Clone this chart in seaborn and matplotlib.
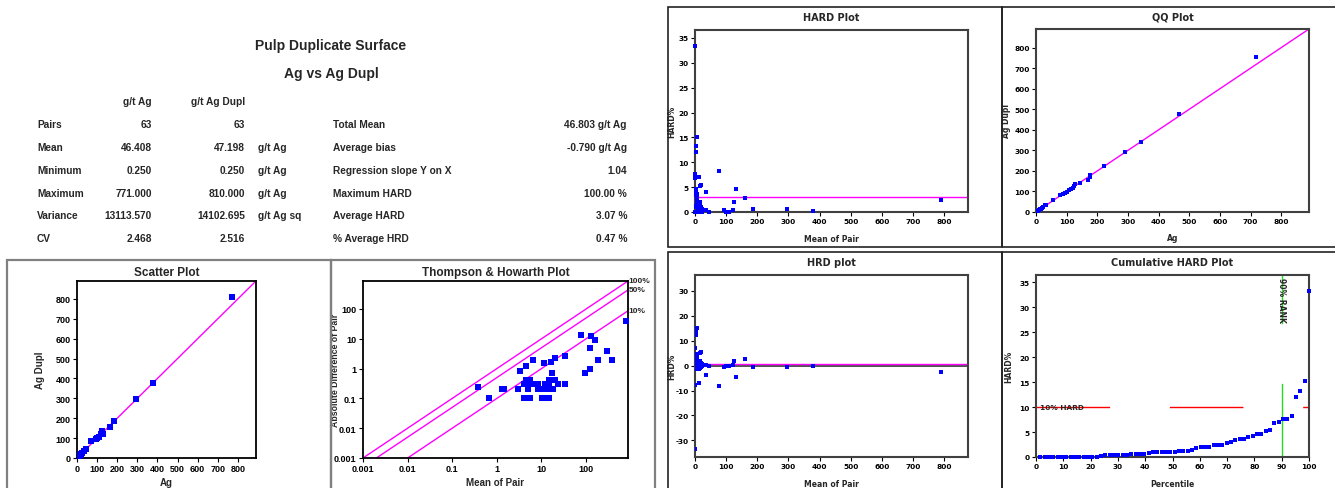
import numpy as np
import pandas as pd
import matplotlib
matplotlib.use("Agg")
import matplotlib.pyplot as plt
import seaborn as sns
from matplotlib.patches import Rectangle

# ---------------- data ----------------
ag = [771, 377, 294, 184, 164, 126, 127, 121.5, 93.3, 72, 32.7, 34.2, 24.2, 21.5,
      20.2, 17.9, 17.6, 17.3, 14.7, 14.9, 14.4, 11.7, 10.6, 10.0, 8.5, 8.6, 7.6, 5.4,
      4.9, 5.1, 4.1, 4.2, 3.7, 3.1, 1.55, 1.2, 0.6, 0.25, 13.2, 11.1, 9.4, 4.6, 5.1,
      6.6, 6.2, 5.2, 5.7, 4.6, 11.0,
      0.25, 0.25, 0.25, 0.5, 0.5, 1.0, 2.0, 3.5, 6.0, 9.0, 22.0, 45.0, 100.0, 108.0]
ag_dupl = [810, 379, 298, 186, 155, 138, 122, 120.5, 94.0, 85, 35.4, 33.9, 23.9, 19.3,
           19.8, 18.1, 16.9, 15.6, 14.8, 14.5, 14.7, 12.0, 12.2, 10.1, 8.3, 8.3, 5.6, 5.5,
           4.5, 3.9, 4.2, 3.9, 2.9, 2.9, 1.35, 1.4, 0.7, 0.5, 13.4, 10.9, 9.6, 4.5, 4.9,
           6.3, 5.9, 4.9, 5.3, 4.2, 11.1,
           0.25, 0.25, 0.25, 0.5, 0.5, 1.0, 2.0, 3.5, 6.0, 9.0, 22.0, 45.0, 100.0, 108.0]

qq_ag = [0.3, 0.5, 1, 1.5, 2.5, 3.5, 4.5, 5.5, 7, 9, 11, 13, 15, 17, 20, 24, 30, 34,
         54, 77, 88, 95, 101, 108, 115, 122, 125, 126, 145, 168, 175, 177, 222, 291,
         341, 467, 718]
qq_dupl = [0.3, 0.5, 1, 1.5, 2.5, 3.5, 4.5, 5.5, 7, 9, 11, 13, 15, 17, 20, 25, 32, 36,
           58, 81, 88, 92, 98, 106, 112, 118, 128, 135, 143, 157, 170, 178, 224, 293,
           340, 477, 754]

avg_hard = 3.07
avg_hrd = 0.47
th_levels = [1.0, 0.5, 0.1]
th_labels = ["100%", "50%", "10%"]

col_heads = ["g/t Ag", "g/t Ag Dupl"]
row_labels = ["Pairs", "Mean", "Minimum", "Maximum", "Variance", "CV"]
col_ag = ["63", "46.408", "0.250", "771.000", "13113.570", "2.468"]
col_dupl = ["63", "47.198", "0.250", "810.000", "14102.695", "2.516"]
col_units = ["", "g/t Ag", "g/t Ag", "g/t Ag", "g/t Ag sq", ""]
stat_labels = ["Total Mean", "Average bias", "Regression slope Y on X",
               "Maximum HARD", "Average HARD", "% Average HRD"]
stat_values = ["46.803 g/t Ag", "-0.790 g/t Ag", "1.04", "100.00 %", "3.07 %", "0.47 %"]

# ---------------- derived ----------------
a = np.array(ag, float)
d = np.array(ag_dupl, float)
df = pd.DataFrame({"ag": a, "dupl": d})
df["mean"] = (a + d) / 2
df["absdiff"] = np.abs(a - d)
df["hard"] = df["absdiff"] / (a + d) * 100
df["hrd"] = (a - d) / (a + d) * 100
cum = pd.DataFrame({"hard": np.sort(df["hard"].values)})
cum["pct"] = np.arange(1, len(cum) + 1) / len(cum) * 100
th = df[df["absdiff"] > 0]
qq = pd.DataFrame({"ag": qq_ag, "dupl": qq_dupl})

# ---------------- figure ----------------
sns.set_theme(style="white")
plt.rcParams['font.family'] = ['Liberation Sans', 'DejaVu Sans']
plt.rcParams['axes.linewidth'] = 1.0
plt.rcParams['axes.unicode_minus'] = False

W, H = 1335, 489
fig = plt.figure(figsize=(W / 100, H / 100), dpi=100)
fig.patch.set_facecolor("white")

def px_axes(x0, y0, x1, y1):
    return fig.add_axes([x0 / W, 1 - y1 / H, (x1 - x0) / W, (y1 - y0) / H])

def px_rect(x0, y0, x1, y1, color, lw):
    fig.patches.append(Rectangle((x0 / W, 1 - y1 / H), (x1 - x0) / W, (y1 - y0) / H,
                                 transform=fig.transFigure, fill=False,
                                 edgecolor=color, linewidth=lw, zorder=0))

def fx(x):
    return x / W

def fy(y):
    return 1 - y / H

BLUE = "#0000FF"
MAG = "#FF00FF"

# ---------------- header text ----------------
fig.text(fx(331), fy(46), "Pulp Duplicate Surface", ha="center", va="center",
         fontsize=10, fontweight="bold")
fig.text(fx(331), fy(74), "Ag vs Ag Dupl", ha="center", va="center",
         fontsize=10, fontweight="bold")
tfs = 7.3
fig.text(fx(152), fy(102), col_heads[0], ha="right", va="center", fontsize=tfs, fontweight="bold")
fig.text(fx(245), fy(102), col_heads[1], ha="right", va="center", fontsize=tfs, fontweight="bold")
row_y = [125, 148, 171, 194, 216, 239]
for i, yy in enumerate(row_y):
    fig.text(fx(37), fy(yy), row_labels[i], ha="left", va="center", fontsize=tfs, fontweight="bold")
    fig.text(fx(152), fy(yy), col_ag[i], ha="right", va="center", fontsize=tfs, fontweight="bold")
    fig.text(fx(245), fy(yy), col_dupl[i], ha="right", va="center", fontsize=tfs, fontweight="bold")
    fig.text(fx(258), fy(yy), col_units[i], ha="left", va="center", fontsize=tfs, fontweight="bold")
    fig.text(fx(333), fy(yy), stat_labels[i], ha="left", va="center", fontsize=tfs, fontweight="bold")
    fig.text(fx(627), fy(yy), stat_values[i], ha="right", va="center", fontsize=tfs, fontweight="bold")

# ---------------- panel frames ----------------
px_rect(7, 261, 331, 492, "#808080", 1.6)
px_rect(331, 261, 655, 492, "#808080", 1.6)
px_rect(668, 8, 1002, 248, "#222222", 1.2)
px_rect(1002, 8, 1340, 248, "#222222", 1.2)
px_rect(668, 253, 1002, 492, "#222222", 1.2)
px_rect(1002, 253, 1340, 492, "#222222", 1.2)

def style_left(ax, title):
    ax.set_title(title, fontsize=8.5, fontweight="bold", pad=4)
    for s in ax.spines.values():
        s.set_color("black")
        s.set_linewidth(1.3)
    ax.tick_params(axis="both", which="major", direction="out", length=3, width=0.8,
                   labelsize=6.5, pad=1.5, colors="black", bottom=True, left=True)
    for lab in ax.get_xticklabels() + ax.get_yticklabels():
        lab.set_fontweight("bold")

def style_right(ax, title):
    ax.set_title(title, fontsize=7, fontweight="bold", pad=7, family="DejaVu Sans")
    for s in ax.spines.values():
        s.set_color("#404040")
        s.set_linewidth(1.5)
    ax.tick_params(axis="both", which="major", direction="out", length=3, width=0.8,
                   labelsize=5.3, pad=1.5, colors="black", bottom=True, left=True)
    for lab in ax.get_xticklabels() + ax.get_yticklabels():
        lab.set_fontweight("bold")
        lab.set_family("DejaVu Sans")

# ---------------- Scatter Plot ----------------
ax1 = px_axes(77, 282, 256, 459)
lim = 890
ax1.plot([0, lim], [0, lim], color=MAG, lw=1, zorder=1)
sns.scatterplot(data=df, x="ag", y="dupl", ax=ax1, marker="s", color=BLUE, s=22,
                linewidth=0, legend=False, zorder=3)
ax1.set_xlim(0, lim)
ax1.set_ylim(0, lim)
ax1.set_xticks(range(0, 801, 100))
ax1.set_yticks(range(0, 801, 100))
style_left(ax1, "Scatter Plot")
ax1.set_xlabel("Ag", fontsize=7, fontweight="bold")
ax1.set_ylabel("Ag Dupl", fontsize=7, fontweight="bold")
ax1.xaxis.set_label_coords(0.5, -0.105)
ax1.yaxis.set_label_coords(-0.18, 0.5)

# ---------------- Thompson & Howarth ----------------
ax2 = px_axes(363, 282, 628, 459)
lo, hi = 0.001, 870
for p in th_levels:
    ax2.plot([lo, hi], [lo * p, hi * p], color=MAG, lw=1, zorder=1)
sns.scatterplot(data=th, x="mean", y="absdiff", ax=ax2, marker="s", color=BLUE, s=18,
                linewidth=0, legend=False, zorder=3)
ax2.set_xscale("log")
ax2.set_yscale("log")
ax2.set_xlim(lo, hi)
ax2.set_ylim(lo, hi)
tv = [0.001, 0.01, 0.1, 1, 10, 100]
tl = ["0.001", "0.01", "0.1", "1", "10", "100"]
ax2.set_xticks(tv)
ax2.set_xticklabels(tl)
ax2.set_yticks(tv)
ax2.set_yticklabels(tl)
ax2.minorticks_off()
style_left(ax2, "Thompson & Howarth Plot")
for p, lab in zip(th_levels, th_labels):
    ax2.text(hi * 1.03, hi * p, lab, ha="left", va="center", fontsize=6,
             fontweight="bold", clip_on=False)
ax2.set_xlabel("Mean of Pair", fontsize=7, fontweight="bold")
ax2.set_ylabel("Absolute Difference of Pair", fontsize=6.3, fontweight="bold")
ax2.xaxis.set_label_coords(0.5, -0.105)
ax2.yaxis.set_label_coords(-0.085, 0.5)

# ---------------- HARD Plot ----------------
ax3 = px_axes(695, 31, 968, 213)
ax3.axhline(avg_hard, color=MAG, lw=1, zorder=1)
sns.scatterplot(data=df, x="mean", y="hard", ax=ax3, marker="s", color=BLUE, s=12,
                linewidth=0, legend=False, zorder=3, clip_on=False)
ax3.set_xlim(0, 877)
ax3.set_ylim(0, 36.6)
ax3.set_xticks(range(0, 801, 100))
ax3.set_yticks(range(0, 36, 5))
style_right(ax3, "HARD Plot")
ax3.set_xlabel("Mean of Pair", fontsize=5.5, fontweight="bold", family="DejaVu Sans")
ax3.set_ylabel("HARD%", fontsize=5.5, fontweight="bold", family="DejaVu Sans")
ax3.xaxis.set_label_coords(0.5, -0.12)
ax3.yaxis.set_label_coords(-0.07, 0.5)

# ---------------- QQ Plot ----------------
ax4 = px_axes(1036, 30, 1309, 213)
ax4.plot([0, lim], [0, lim], color=MAG, lw=1, zorder=1)
sns.scatterplot(data=qq, x="ag", y="dupl", ax=ax4, marker="s", color=BLUE, s=12,
                linewidth=0, legend=False, zorder=3)
ax4.set_xlim(0, lim)
ax4.set_ylim(0, lim)
ax4.set_xticks(range(0, 801, 100))
ax4.set_yticks(range(0, 801, 100))
style_right(ax4, "QQ Plot")
ax4.set_xlabel("Ag", fontsize=5.5, fontweight="bold", family="DejaVu Sans")
ax4.set_ylabel("Ag Dupl", fontsize=5.5, fontweight="bold", family="DejaVu Sans")
ax4.xaxis.set_label_coords(0.5, -0.115)
ax4.yaxis.set_label_coords(-0.09, 0.5)

# ---------------- HRD plot ----------------
ax5 = px_axes(695, 276, 968, 458)
ax5.axhline(0, color="#333333", lw=1.2, zorder=1)
ax5.axhline(avg_hrd, color=MAG, lw=1, zorder=1)
sns.scatterplot(data=df, x="mean", y="hrd", ax=ax5, marker="s", color=BLUE, s=12,
                linewidth=0, legend=False, zorder=3)
ax5.set_xlim(0, 877)
ax5.set_ylim(-36.7, 36.4)
ax5.set_xticks(range(0, 801, 100))
ax5.set_yticks(range(-30, 31, 10))
style_right(ax5, "HRD plot")
ax5.set_xlabel("Mean of Pair", fontsize=5.5, fontweight="bold", family="DejaVu Sans")
ax5.set_ylabel("HRD%", fontsize=5.5, fontweight="bold", family="DejaVu Sans")
ax5.xaxis.set_label_coords(0.5, -0.12)
ax5.yaxis.set_label_coords(-0.07, 0.5)

# ---------------- Cumulative HARD Plot ----------------
ax6 = px_axes(1036, 276, 1309, 458)
ax6.axhline(10, color="#FF0000", lw=1, dashes=(53, 43), zorder=1)
ax6.axvline(90, color="#22DD22", lw=1, dashes=(53, 43), zorder=1)
sns.scatterplot(data=cum, x="pct", y="hard", ax=ax6, marker="s", color=BLUE, s=12,
                linewidth=0, legend=False, zorder=3, clip_on=False)
ax6.set_xlim(0, 100)
ax6.set_ylim(0, 36.5)
ax6.set_xticks(range(0, 101, 10))
ax6.set_yticks(range(0, 36, 5))
style_right(ax6, "Cumulative HARD Plot")
ax6.text(1.5, 10, "10% HARD", ha="left", va="center", fontsize=5.3, fontweight="bold",
         family="DejaVu Sans", zorder=4)
ax6.text(90, 36.0, "90% RANK", ha="center", va="top", rotation=270, fontsize=5.5,
         fontweight="bold", family="DejaVu Sans", zorder=4)
ax6.set_xlabel("Percentile", fontsize=5.5, fontweight="bold", family="DejaVu Sans")
ax6.set_ylabel("HARD%", fontsize=5.5, fontweight="bold", family="DejaVu Sans")
ax6.xaxis.set_label_coords(0.5, -0.12)
ax6.yaxis.set_label_coords(-0.085, 0.5)

fig.savefig("out.png", dpi=100, facecolor="white")
